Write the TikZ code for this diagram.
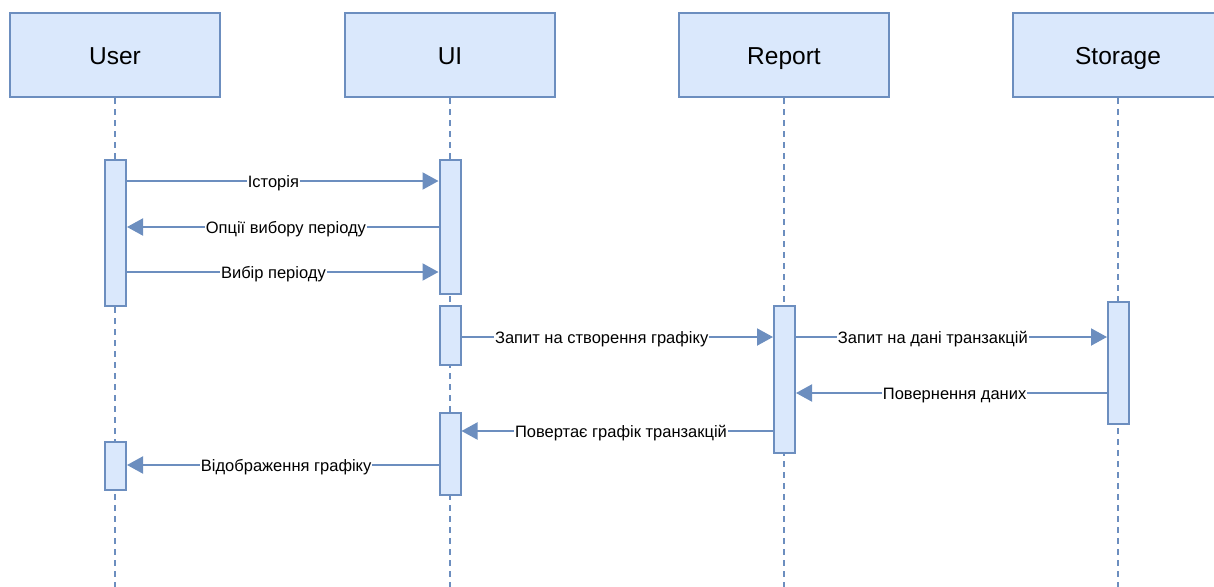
\documentclass[tikz,border=0pt]{standalone}
\usepackage{fontspec}
\setmainfont{Liberation Sans}
\usetikzlibrary{arrows.meta}
\definecolor{boxfill}{HTML}{DAE8FC}
\definecolor{boxline}{HTML}{6C8EBF}

\begin{document}
\begin{tikzpicture}[x=1pt, y=-1pt,
    actor/.style={draw=boxline, fill=boxfill, line width=2pt, minimum width=210pt, minimum height=84pt, text height=18pt, text depth=0pt, font=\fontsize{24.5}{28}\selectfont},
    act/.style={draw=boxline, fill=boxfill, line width=2pt, minimum width=21pt, inner sep=0pt},
    life/.style={boxline, line width=2pt, dash pattern=on 6pt off 5pt},
    msg/.style={boxline, line width=2pt, -{Triangle[length=16pt,width=17pt]}},
    lbl/.style={fill=white, text=black, inner sep=1pt, text height=12pt, text depth=0pt, font=\fontsize{16.5}{19}\selectfont}]
    \clip (0,0) rectangle (1214,586);

    % Participants
    \node[actor] (user) at (115,55) {User};
    \node[actor] (ui) at (450,55) {UI};
    \node[actor] (report) at (784,55) {Report};
    \node[actor] (storage) at (1118,55) {Storage};

    % Lifelines
    \coordinate (bot) at (0,590);
    \foreach \p in {user,ui,report,storage}
        \draw[life] (\p.south) -- (\p.south |- bot);

    % Activations
    \node[act, minimum height=146pt] (ua1) at (115.5,233) {};
    \node[act, minimum height=48pt] (ua2) at (115.5,466) {};
    \node[act, minimum height=134pt] (ia1) at (450,227) {};
    \node[act, minimum height=59pt] (ia2) at (450,335.5) {};
    \node[act, minimum height=82pt] (ia3) at (450,454) {};
    \node[act, minimum height=147pt] (ra1) at (784.5,379.5) {};
    \node[act, minimum height=122pt] (sa1) at (1118.5,363) {};

    % Message rows
    \coordinate (m1) at (0,181);
    \coordinate (m2) at (0,227);
    \coordinate (m3) at (0,272);
    \coordinate (m4) at (0,337);
    \coordinate (m5) at (0,393);
    \coordinate (m6) at (0,431);
    \coordinate (m7) at (0,465);

    % Messages
    \draw[msg] (ua1.east |- m1) -- (ia1.west |- m1) node[lbl, pos=0.47] {Історія};
    \draw[msg] (ia1.west |- m2) -- (ua1.east |- m2) node[lbl, pos=0.49] {Опції вибору періоду};
    \draw[msg] (ua1.east |- m3) -- (ia1.west |- m3) node[lbl, pos=0.47] {Вибір періоду};
    \draw[msg] (ia2.east |- m4) -- (ra1.west |- m4) node[lbl, pos=0.45] {Запит на створення графіку};
    \draw[msg] (ra1.east |- m4) -- (sa1.west |- m4) node[lbl, pos=0.44] {Запит на дані транзакцій};
    \draw[msg] (sa1.west |- m5) -- (ra1.east |- m5) node[lbl, pos=0.49] {Повернення даних};
    \draw[msg] (ra1.west |- m6) -- (ia3.east |- m6) node[lbl, pos=0.488] {Повертає графік транзакцій};
    \draw[msg] (ia3.west |- m7) -- (ua2.east |- m7) node[lbl, pos=0.489] {Відображення графіку};
\end{tikzpicture}
\end{document}
